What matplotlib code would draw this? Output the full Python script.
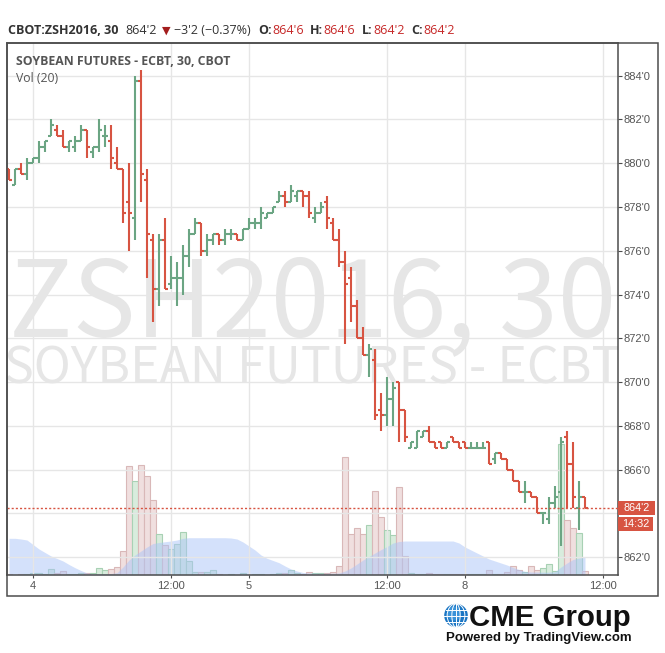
import numpy as np
import matplotlib.pyplot as plt
from matplotlib.patches import Rectangle, Circle, Ellipse
import matplotlib.transforms as mtransforms

plt.rcParams['font.family'] = ['Liberation Sans', 'DejaVu Sans']

# 30 minute bars, CBOT:ZSH2016
opens = [879.75, 879.0, 879.75, 879.5, 880.0, 880.25, 880.75, 881.25, 881.5, 881.25,
         880.75, 880.75, 881.0, 881.5, 880.5, 880.75, 881.25, 881.0, 880.0, 879.75,
         878.25, 877.5, 883.75, 879.25, 876.5, 874.25, 876.5, 874.5, 874.75, 874.75,
         875.75, 876.75, 877.25, 876.0, 876.5, 876.75, 876.5, 876.75, 876.75, 876.5,
         877.0, 877.25, 877.25, 877.5, 877.75, 878.25, 878.5, 878.25, 878.5, 878.75,
         878.5, 877.5, 877.75, 878.25, 877.25, 876.5, 875.5, 874.75, 873.5, 872.0,
         871.25, 871.0, 868.75, 868.5, 869.25, 870.0, 868.75, 867.0, 867.0, 867.5,
         867.75, 867.25, 867.25, 867.0, 867.5, 867.25, 867.25, 867.0, 867.0, 867.0,
         867.25, 866.5, 866.75, 866.5, 866.0, 865.5, 865.0, 865.0, 864.75, 864.0,
         863.75, 864.5, 865.0, 867.5, 866.25, 864.25, 864.75]
highs = [879.75, 879.75, 880.0, 880.25, 880.25, 881.0, 881.0, 882.0, 881.75, 881.5,
         881.0, 881.25, 881.75, 881.5, 880.75, 882.0, 881.75, 881.75, 880.75, 879.75,
         880.0, 884.0, 884.25, 879.75, 876.75, 876.75, 877.5, 875.75, 875.5, 876.25,
         877.0, 877.5, 877.25, 876.75, 876.75, 876.75, 877.0, 877.0, 876.75, 877.0,
         877.5, 877.5, 878.0, 877.75, 878.0, 878.75, 878.75, 879.0, 878.75, 878.75,
         878.75, 878.0, 878.25, 878.5, 877.5, 877.0, 876.0, 875.25, 873.75, 872.5,
         871.75, 871.5, 869.5, 870.25, 870.0, 870.0, 868.75, 867.25, 867.75, 867.75,
         868.0, 867.25, 867.25, 867.25, 867.5, 867.25, 867.25, 867.25, 867.25, 867.25,
         867.25, 866.75, 866.75, 866.5, 866.0, 865.5, 865.5, 865.0, 864.75, 864.0,
         864.75, 865.25, 867.5, 867.75, 867.25, 865.5, 864.75]
lows = [879.25, 879.0, 879.5, 879.25, 880.0, 880.0, 880.5, 881.25, 881.25, 880.75,
        880.5, 880.5, 881.0, 880.25, 880.25, 880.5, 880.75, 879.75, 879.75, 877.25,
        876.0, 876.5, 878.25, 874.75, 872.75, 873.5, 874.25, 874.25, 873.5, 874.0,
        875.25, 876.75, 875.75, 875.75, 876.25, 876.25, 876.25, 876.5, 876.5, 876.5,
        877.0, 877.0, 877.0, 877.5, 877.75, 878.25, 878.0, 878.25, 878.25, 878.0,
        877.5, 877.25, 877.75, 877.0, 876.5, 875.25, 871.75, 872.75, 872.0, 871.25,
        870.25, 868.25, 867.75, 868.0, 868.0, 867.25, 867.25, 867.0, 867.0, 867.5,
        867.25, 867.0, 867.0, 867.0, 867.25, 867.0, 867.0, 867.0, 867.0, 867.0,
        866.25, 866.25, 866.5, 866.0, 865.5, 865.0, 864.5, 864.75, 864.0, 863.5,
        863.5, 864.25, 862.5, 864.25, 864.25, 863.25, 864.25]
closes = [879.25, 879.75, 879.5, 880.0, 880.25, 880.75, 881.0, 881.75, 881.25, 880.75,
          881.0, 881.0, 881.5, 880.75, 880.75, 881.5, 881.25, 880.25, 879.75, 877.75,
          877.75, 883.75, 879.5, 876.75, 874.25, 876.5, 874.25, 874.75, 874.75, 875.75,
          876.75, 877.25, 876.0, 876.5, 876.75, 876.5, 876.75, 876.75, 876.5, 877.0,
          877.25, 877.25, 877.75, 877.75, 878.0, 878.5, 878.25, 878.75, 878.75, 878.5,
          877.75, 877.75, 878.0, 877.5, 876.5, 875.5, 874.5, 873.5, 872.0, 871.25,
          871.5, 868.5, 868.5, 869.25, 869.75, 868.75, 867.5, 867.25, 867.75, 867.75,
          867.25, 867.0, 867.0, 867.25, 867.25, 867.0, 867.0, 867.0, 867.0, 867.0,
          866.25, 866.75, 866.5, 866.0, 865.5, 865.0, 865.0, 864.75, 864.0, 864.0,
          864.5, 864.75, 867.25, 866.25, 864.75, 864.75, 864.25]
volume = [20, 10, 30, 30, 40, 50, 30, 120, 40, 90, 14, 14, 50, 50, 34, 150, 94, 130, 170, 490,
          2190, 1890, 2210, 1974, 1508, 828, 594, 520, 628, 868,
          274, 60, 60, 60, 100, 26, 10, 14, 10, 34,
          10, 20, 26, 10, 14, 46, 34, 94, 34, 14,
          66, 34, 34, 46, 70, 180, 2360, 830, 940, 830,
          1010, 1680, 1160, 910, 810, 1760, 380, 34, 26, 26,
          34, 14, 26, 14, 26, 14, 14, 14, 14, 14,
          94, 26, 26, 60, 174, 94, 54, 174, 94, 134,
          214, 80, 2620, 1100, 940, 850, 80]
vol_ma = [734, 734, 720, 700, 610, 520, 450, 380, 330, 280, 210, 146, 90, 40, 26, 26, 26, 30, 46, 160,
          300, 400, 480, 560, 630, 650, 666, 680, 700, 734,
          746, 746, 746, 746, 746, 746, 746, 740, 720, 660,
          580, 500, 400, 334, 290, 246, 180, 120, 80, 50,
          40, 40, 36, 36, 36, 40, 80, 140, 220, 300,
          370, 440, 508, 570, 640, 670, 680, 680, 680, 680,
          680, 680, 680, 680, 680, 640, 560, 500, 440, 380,
          320, 280, 240, 200, 150, 110, 70, 60, 60, 56,
          56, 66, 160, 240, 310, 340, 360]
prev_settle = 867.5
time_ticks = [4, 27, 40, 63, 76, 99]
time_labels = ["4", "12:00", "5", "12:00", "8", "12:00"]
price_ticks = list(range(862, 886, 2))

RED = '#d75442'
GREEN = '#6ba583'
TXT = '#555555'
BORDER = '#4d4d4d'


def fmt(p):
    whole = int(np.floor(p + 1e-9))
    return f"{whole}'{int(round((p - whole) * 8))}"


W, H = 665, 653
fig = plt.figure(figsize=(W / 100, H / 100), dpi=100)


def box(x0, y0, x1, y1):
    return [x0 / W, 1 - y1 / H, (x1 - x0) / W, (y1 - y0) / H]


PL, PT, PR, PB = 6.7, 43.3, 618.3, 575.0
XLIM = (-0.383, 101.55)
axv = fig.add_axes(box(PL, PT, PR, PB))
ax = fig.add_axes(box(PL, PT, PR, PB))
ax.patch.set_visible(False)

x = np.arange(len(closes))
o, h, l, c = map(np.array, (opens, highs, lows, closes))
up = c >= o
col = np.where(up, GREEN, RED)

# volume pane, behind the prices
axv.set_xlim(*XLIM)
axv.set_ylim(0, max(volume) * 4.06)
axv.axis('off')
wmfont = ['Noto Sans CJK JP', 'Liberation Sans']
wm1 = axv.text(0.5, 0.4495, "ZSH2016, 30", transform=axv.transAxes, ha='center',
               va='baseline', fontsize=76, color='#e6e6e6', zorder=0, family=wmfont)
wm2 = axv.text(0.5, 0.361, "SOYBEAN FUTURES - ECBT", transform=axv.transAxes,
               ha='center', va='baseline', fontsize=36, color='#e6e6e6', zorder=0,
               family=wmfont)
for t in (wm1, wm2):
    t.set_clip_box(axv.bbox)
    t.set_clip_on(True)
axv.bar(x, volume, width=0.9, color=np.where(up, '#d8ecdd', '#f0dfdf'),
        edgecolor=np.where(up, '#a8d1b4', '#d9b8b8'), linewidth=0.8, zorder=2)
axv.fill_between(x, vol_ma, color='#aac4f8', alpha=0.5, lw=0, zorder=3)

# price bars
ax.set_xlim(*XLIM)
ax.set_ylim(861.19, 885.48)
ax.grid(color='#e6e6e6', lw=1)
ax.vlines(x, l, h, colors=col, lw=1.5, zorder=4)
ax.hlines(o, x - 0.42, x, colors=col, lw=1.5, zorder=4)
ax.hlines(c, x, x + 0.42, colors=col, lw=1.5, zorder=4)
ax.axhline(c[-1], color=RED, lw=1, ls=(0, (1.5, 1.5)), zorder=5)

ax.set_xticks(time_ticks, time_labels)
# the label next to the last price box is hidden, as on the chart
ax.set_yticks(price_ticks, ["" if abs(p - c[-1]) < 1 else f"{p}'0" for p in price_ticks])
ax.yaxis.tick_right()
ax.tick_params(axis='both', colors=BORDER, labelcolor=TXT, labelsize=8, width=0.8)
ax.tick_params(axis='x', length=2.2, pad=2)
ax.tick_params(axis='y', length=2.9, pad=0.6)
for s in ax.spines.values():
    s.set_color(BORDER)
    s.set_linewidth(1.1)

# last price labels
trans = mtransforms.blended_transform_factory(ax.transAxes, ax.transData)
ax.add_patch(Rectangle((1.0, c[-1] - 0.304), 0.06, 0.608, transform=trans,
                       fc=RED, ec='none', clip_on=False, zorder=6))
ax.add_patch(Rectangle((1.0, c[-1] - 1.067), 0.0572, 0.658, transform=trans,
                       fc=RED, ec='none', clip_on=False, zorder=6))
ax.text(1.03, c[-1], fmt(c[-1]), transform=trans, ha='center', va='center',
        color='white', fontsize=7.8, zorder=7)
ax.text(1.0286, c[-1] - 0.738, "14:32", transform=trans, ha='center', va='center',
        color='white', fontsize=7.8, zorder=7)

# overlay in pixel coordinates
ov = fig.add_axes([0, 0, 1, 1])
ov.set_xlim(0, W)
ov.set_ylim(H, 0)
ov.axis('off')
ov.add_patch(Rectangle((PL, PT), 658.3 - PL, 595.7 - PT, fill=False, ec=BORDER, lw=1.1))

chg = c[-1] - prev_settle
hdr = [
    (7.5, "CBOT:ZSH2016, 30", '#333333', 'bold'),
    (125, fmt(c[-1]), '#333333', 'normal'),
    (174, "\u2212" + fmt(abs(chg)) + f" (\u2212{abs(chg) / prev_settle * 100:.2f}%)", '#333333', 'normal'),
    (258, "O:", '#333333', 'bold'), (272, fmt(o[-1]), '#c62828', 'normal'),
    (310, "H:", '#333333', 'bold'), (323, fmt(h[-1]), '#c62828', 'normal'),
    (362, "L:", '#333333', 'bold'), (373, fmt(l[-1]), '#c62828', 'normal'),
    (411, "C:", '#333333', 'bold'), (423, fmt(c[-1]), '#c62828', 'normal'),
]
for hx, s, colr, wt in hdr:
    ov.text(hx, 34, s, color=colr, fontweight=wt, fontsize=9, va='baseline',
            family=['Open Sans', 'DejaVu Sans'])
ov.text(161.5, 34, "\u25bc", color='#a31d1d', fontsize=8, va='baseline', family='DejaVu Sans')

ov.text(16, 65, "SOYBEAN FUTURES - ECBT, 30, CBOT", color=TXT, fontweight='bold',
        fontsize=8.8, va='baseline', family=['Open Sans', 'DejaVu Sans'])
ov.text(16, 81.5, "Vol (20)", color=TXT, fontsize=8.8, va='baseline',
        family=['Open Sans', 'DejaVu Sans'])

# CME Group logo
gx, gy, gr = 456, 615.5, 11.8
ov.add_patch(Circle((gx, gy), gr, fc='#1b76c4', ec='none'))
ov.add_patch(Circle((gx - 2, gy - 2), gr * 0.6, fc='#4ea6e6', ec='none', alpha=0.6))
for wdt in (0.35, 0.75):
    ov.add_patch(Ellipse((gx, gy), 2 * gr * wdt, 2 * gr, fill=False, ec='white', lw=0.7))
ov.plot([gx, gx], [gy - gr, gy + gr], color='white', lw=0.7)
for dy in (-6, 0, 6):
    half = np.sqrt(max(gr ** 2 - dy ** 2, 0))
    ov.plot([gx - half, gx + half], [gy + dy, gy + dy], color='white', lw=0.7)
ov.text(469, 626.5, "CME Group", fontsize=21.2, fontweight='bold', color='#111111',
        va='baseline')
ov.text(446, 640.5, "Powered by TradingView.com", fontsize=9.5, fontweight='bold',
        color='#111111', va='baseline')

fig.savefig("out.png", dpi=100)
